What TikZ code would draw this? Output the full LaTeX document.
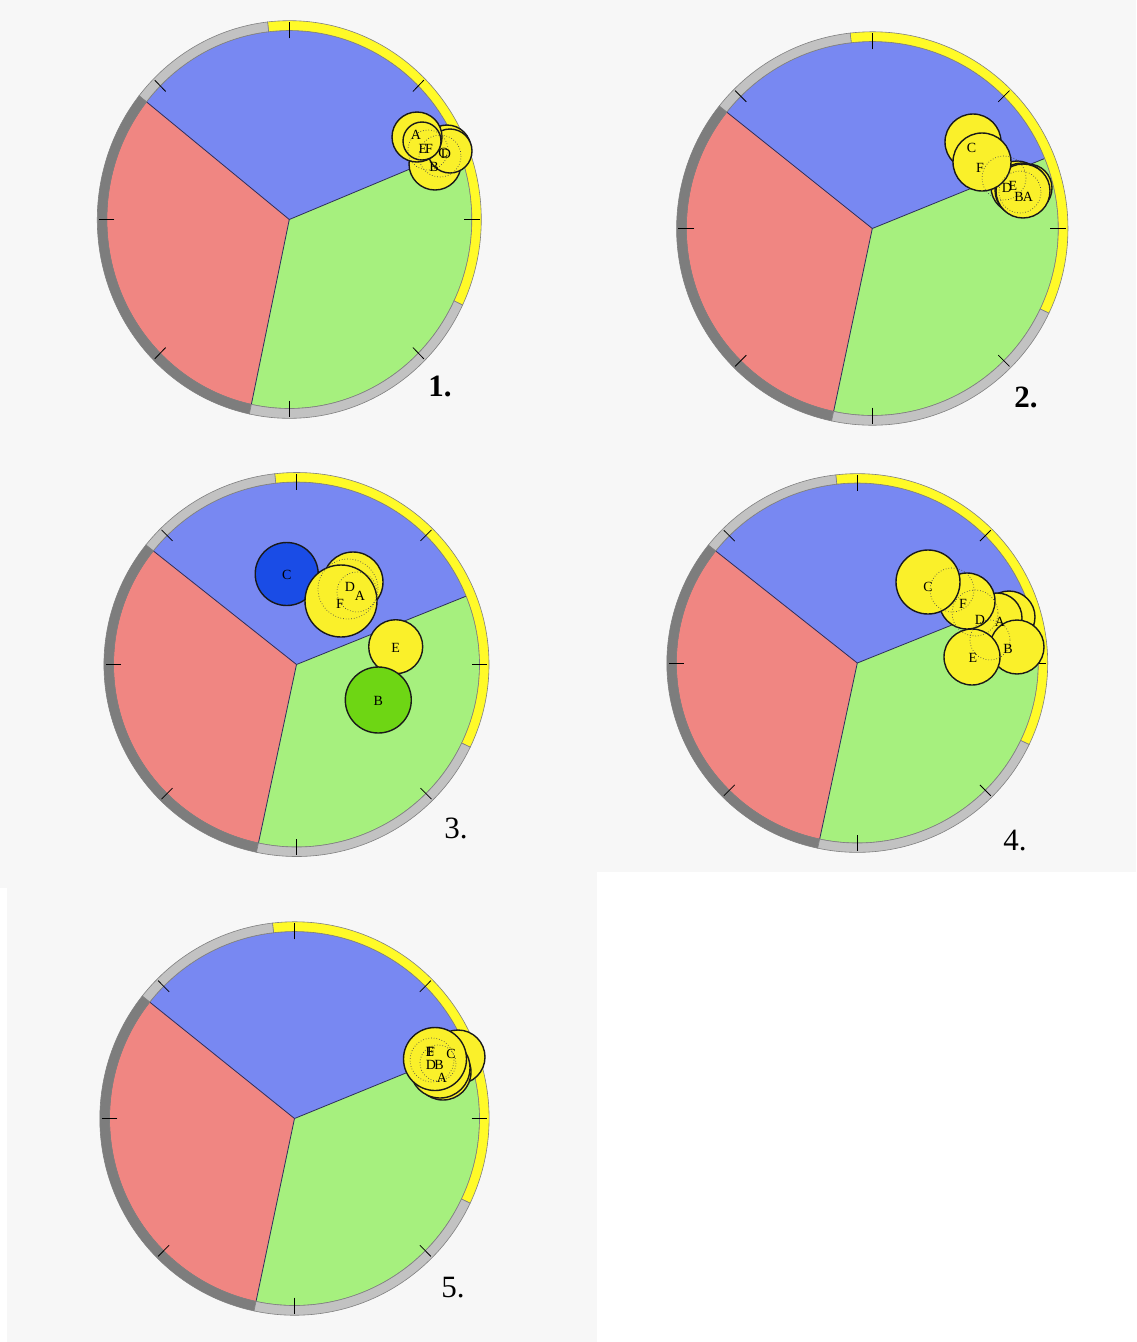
\documentclass[tikz,border=0pt]{standalone}
\usepackage{fontspec}
\setmainfont{Liberation Serif}
\definecolor{bgc}{HTML}{F7F7F7}
\definecolor{cblue}{HTML}{7888F2}
\definecolor{cred}{HTML}{F08682}
\definecolor{cgreen}{HTML}{A6F07E}
\definecolor{cyel}{HTML}{FAF02A}
\definecolor{ryel}{HTML}{FFFA28}
\definecolor{lgray}{HTML}{C2C2C2}
\definecolor{dgray}{HTML}{7D7D7D}
\definecolor{cdblue}{HTML}{1A4CE6}
\definecolor{cgrn}{HTML}{6ED614}
\definecolor{secl}{HTML}{2C2C5C}
\tikzset{
  coin/.style={draw=black!90,line width=1.4pt,fill=cyel},
  ghost/.style={draw=black!70,dotted,line width=0.7pt},
  lab/.style={inner sep=0pt,text=black,font=\fontsize{14}{14}\selectfont},
  plab/.style={inner sep=0pt,text=black,font=\fontsize{31}{31}\selectfont},
  secline/.style={draw=secl,line width=0.8pt},
  ringseg/.style={draw=black!50,line width=0.6pt},
}
\newcommand{\ringpart}[3]{%
  \filldraw[ringseg,fill=#1] (#2:100) arc[start angle=#2,end angle=#3,radius=100]
    -- (#3:105.2) arc[start angle=#3,end angle=#2,radius=105.2] -- cycle;}
\newcommand{\dial}[4]{%
\begin{scope}[shift={(#1,#2)},xscale=#3/100,yscale=-#4/100]
  \fill[cblue] (0,0) -- (22:100) arc[start angle=22,end angle=141.5,radius=100] -- cycle;
  \fill[cred] (0,0) -- (141.5:100) arc[start angle=141.5,end angle=258,radius=100] -- cycle;
  \fill[cgreen] (0,0) -- (258:100) arc[start angle=258,end angle=382,radius=100] -- cycle;
  \draw[secline] (0,0) -- (22:100);
  \draw[secline] (0,0) -- (141.5:100);
  \draw[secline] (0,0) -- (258:100);
  \draw[draw=black!55,line width=0.6pt] (0,0) circle[radius=100];
  \ringpart{ryel}{-25.5}{96.5}
  \ringpart{lgray}{96.5}{141.5}
  \ringpart{dgray}{141.5}{258}
  \ringpart{lgray}{258}{334.5}
  \foreach \a in {0,45,...,315} \draw[black,line width=0.8pt] (\a:95.8) -- (\a:104.3);
\end{scope}}
\begin{document}
\begin{tikzpicture}[x=1pt,y=-1pt]
\useasboundingbox (0,0) rectangle (1136,1342);
\fill[bgc] (0,0) rectangle (1136,1342);
\fill[white] (597,872) rectangle (1136,1342);
\fill[white] (0,888) rectangle (7,1342);

% ---------- panel 1 ----------
\dial{289.3}{219.5}{182.5}{189}
\draw[coin] (447,149) circle[radius=24];
\draw[coin] (435,164) circle[radius=26];
\draw[coin] (450,151) circle[radius=22];
\draw[coin] (417,137) circle[radius=25];
\draw[coin] (422,141) circle[radius=19];
\draw[ghost] (428,150) circle[radius=20];
\draw[ghost] (440,156) circle[radius=21];
\node[lab] (p1A) at (416,135) {A};
\node[lab] (p1E) at (423,149) {E};
\node[lab] (p1F) at (429,149) {F};
\node[lab] (p1C) at (443,153) {C};
\node[lab] (p1D) at (446,154) {D};
\node[lab] (p1B) at (434,167) {B};
\node[plab,font=\bfseries\fontsize{31}{31}\selectfont] (n1) at (440,386) {1.};

% ---------- panel 2 ----------
\dial{872.3}{228.5}{186}{187}
\draw[coin] (1017,187) circle[radius=26];
\draw[coin] (1028,188) circle[radius=24];
\draw[coin] (1022,190) circle[radius=27];
\draw[coin] (1023,191) circle[radius=27];
\draw[coin] (973,142) circle[radius=28];
\draw[coin] (982,162) circle[radius=29];
\draw[ghost] (1004,178) circle[radius=22];
\draw[ghost] (1020,192) circle[radius=21];
\node[lab] (p2C) at (971.5,148) {C};
\node[lab] (p2F) at (980,168) {F};
\node[lab] (p2D) at (1007,188) {D};
\node[lab] (p2E) at (1013,186) {E};
\node[lab] (p2B) at (1019,197) {B};
\node[lab] (p2A) at (1028,197) {A};
\node[plab,font=\bfseries\fontsize{31}{31}\selectfont] (n2) at (1026,397) {2.};

% ---------- panel 3 ----------
\dial{296.5}{664.5}{183}{182.5}
\draw[coin,fill=cdblue] (286.7,574) circle[radius=31.5];
\draw[coin] (353,582) circle[radius=30];
\draw[coin] (341,601) circle[radius=36];
\draw[ghost] (348,589) circle[radius=30];
\draw[ghost] (357,592) circle[radius=20];
\draw[coin] (395.7,646.7) circle[radius=27];
\draw[coin,fill=cgrn] (378.3,700) circle[radius=33];
\node[lab] (p3C) at (286.7,575) {C};
\node[lab] (p3D) at (350,587) {D};
\node[lab] (p3A) at (360,596) {A};
\node[lab] (p3F) at (340,604) {F};
\node[lab] (p3E) at (395.7,648) {E};
\node[lab] (p3B) at (378.3,701) {B};
\node[plab] (n3) at (456,828) {3.};

% ---------- panel 4 ----------
\dial{857.3}{663}{181}{180}
\draw[coin] (1009,617) circle[radius=26];
\draw[coin] (997,618) circle[radius=25];
\draw[coin] (1017,647) circle[radius=27];
\draw[coin] (972,657) circle[radius=28];
\draw[coin] (967,601) circle[radius=28];
\draw[coin] (928,582) circle[radius=32];
\draw[ghost] (975,613) circle[radius=23];
\draw[ghost] (990,640) circle[radius=20];
\draw[ghost] (952,590) circle[radius=22];
\node[lab] (p4C) at (928,587) {C};
\node[lab] (p4F) at (963,604) {F};
\node[lab] (p4D) at (980,620) {D};
\node[lab] (p4A) at (1000,622) {A};
\node[lab] (p4B) at (1008,649) {B};
\node[lab] (p4E) at (973,658) {E};
\node[plab] (n4) at (1015,841) {4.};

% ---------- panel 5 ----------
\dial{294.5}{1118.5}{185}{187}
\draw[coin] (458,1057) circle[radius=27];
\draw[coin] (443,1072) circle[radius=28];
\draw[coin] (440,1068) circle[radius=30];
\draw[coin] (435,1059) circle[radius=31.5];
\draw[ghost] (432,1060) circle[radius=22];
\draw[ghost] (438,1063) circle[radius=18];
\node[lab] (p5E) at (430,1052) {E};
\node[lab] (p5F) at (431,1052) {F};
\node[lab] (p5C) at (451,1054) {C};
\node[lab] (p5D) at (431,1065) {D};
\node[lab] (p5B) at (439,1065) {B};
\node[lab] (p5A) at (442,1078) {A};
\node[plab] (n5) at (453,1288) {5.};
\end{tikzpicture}
\end{document}
